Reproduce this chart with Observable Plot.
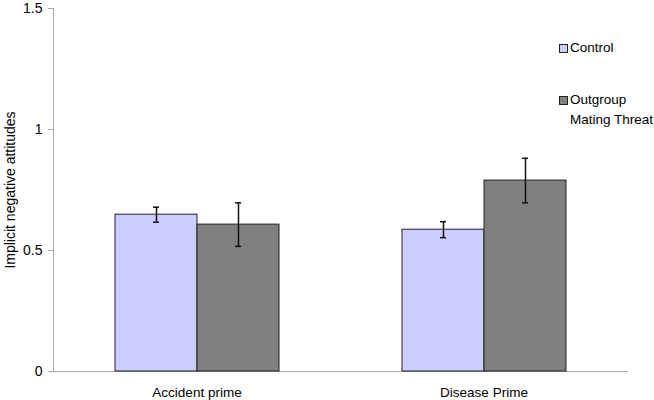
<!DOCTYPE html>
<html>
<head>
<meta charset="utf-8">
<script src="https://cdn.jsdelivr.net/npm/d3@7"></script>
<script src="https://cdn.jsdelivr.net/npm/@observablehq/plot@0.6"></script>
<style>
  body { margin: 0; background: #fff; font-family: "Liberation Sans", Arial, sans-serif; }
  #wrap { position: relative; width: 654px; height: 400px; }
  #legend { position: absolute; left: 559px; top: 38px; font-size: 13.5px; color: #000; line-height: 20px; }
  .item { display: flex; align-items: flex-start; }
  .sw { width: 7px; height: 7px; border: 1px solid #222; margin-top: 6px; margin-right: 2px; flex: none; }
</style>
</head>
<body>
<div id="wrap"><div id="chart"></div><div id="legend"></div></div>
<script>
const categories = ["Accident prime", "Disease Prime"];
const groups = ["Control", "Outgroup Mating Threat"];
const groupLabels = [["Control"], ["Outgroup", "Mating Threat"]];
const colors = ["#ccccff", "#808080"];
const controlMeans = [0.648, 0.586];
const controlErrors = [0.031, 0.033];
const threatMeans = [0.607, 0.789];
const threatErrors = [0.090, 0.092];
const yTicks = [0, 0.5, 1, 1.5];
const yLabel = "Implicit negative attitudes";

const data = [];
categories.forEach((c, i) => {
  data.push({cat: c, group: groups[0], mean: controlMeans[i], lo: controlMeans[i] - controlErrors[i], hi: controlMeans[i] + controlErrors[i]});
  data.push({cat: c, group: groups[1], mean: threatMeans[i], lo: threatMeans[i] - threatErrors[i], hi: threatMeans[i] + threatErrors[i]});
});

const chart = Plot.plot({
  width: 654,
  height: 400,
  marginLeft: 53,
  marginRight: 27,
  marginTop: 8,
  marginBottom: 29,
  style: {fontFamily: "'Liberation Sans', Arial, sans-serif", fontSize: "14px", color: "#000", background: "#fff", overflow: "visible"},
  fx: {domain: categories, padding: 0, label: null},
  x: {domain: groups, paddingInner: 0, paddingOuter: 0.74, axis: null},
  y: {domain: [0, 1.5]},
  color: {domain: groups, range: colors},
  marks: [
    Plot.frame({anchor: "bottom", stroke: "#aaa"}),
    Plot.frame({anchor: "left", stroke: "#aaa", facetAnchor: "left"}),
    Plot.axisY({ticks: yTicks, tickFormat: d => String(d), tickSize: 5, tickPadding: 6, stroke: "#aaa", fill: "#000",
      fontSize: 14, label: yLabel, labelAnchor: "center", labelArrow: "none", labelOffset: 48}),
    Plot.axisFx({anchor: "bottom", tickSize: 0, tickPadding: 16, label: null, fill: "#000", fontSize: 13.5}),
    Plot.barY(data, {fx: "cat", x: "group", y: "mean", fill: "group", stroke: "#222", strokeWidth: 1}),
    Plot.ruleX(data, {fx: "cat", x: "group", y1: "lo", y2: "hi", stroke: "#111", strokeWidth: 1.5}),
    Plot.tickY(data, {fx: "cat", x: "group", y: "lo", stroke: "#111", strokeWidth: 1.5, insetLeft: 38, insetRight: 38}),
    Plot.tickY(data, {fx: "cat", x: "group", y: "hi", stroke: "#111", strokeWidth: 1.5, insetLeft: 38, insetRight: 38})
  ]
});
document.getElementById("chart").appendChild(chart);

const legend = document.getElementById("legend");
groups.forEach((g, i) => {
  const item = document.createElement("div");
  item.className = "item";
  if (i > 0) item.style.marginTop = "32px";
  const sw = document.createElement("div");
  sw.className = "sw";
  sw.style.background = colors[i];
  const txt = document.createElement("div");
  txt.innerHTML = groupLabels[i].join("<br>");
  item.appendChild(sw);
  item.appendChild(txt);
  legend.appendChild(item);
});
</script>
</body>
</html>
